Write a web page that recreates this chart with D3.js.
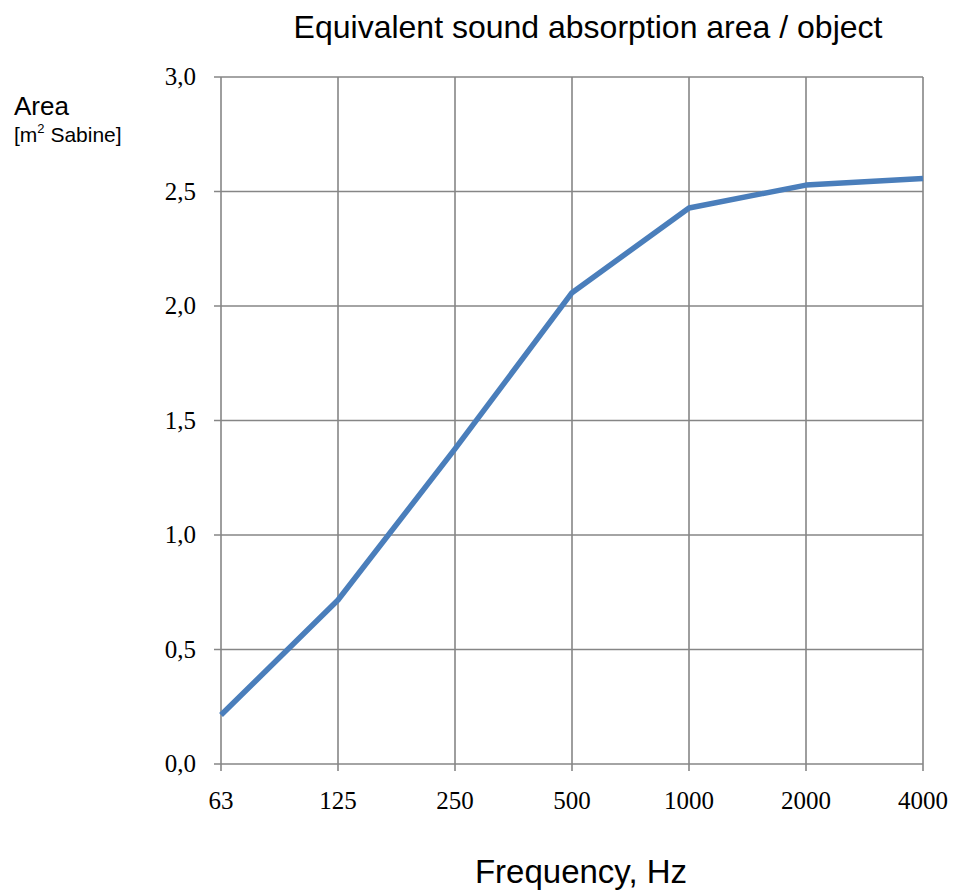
<!DOCTYPE html>
<html>
<head>
<meta charset="utf-8">
<script src="https://cdn.jsdelivr.net/npm/d3@7"></script>
<style>
  body { margin: 0; background: #fff; }
</style>
</head>
<body>
<div id="chart"></div>
<script>
// data
var freqLabels = ["63", "125", "250", "500", "1000", "2000", "4000"];
var areaValues = [0.214, 0.716, 1.376, 2.058, 2.428, 2.528, 2.557];
var yTicks = [0, 0.5, 1.0, 1.5, 2.0, 2.5, 3.0];

var W = 968, H = 892;
var margin = {top: 77, right: 45, bottom: 128, left: 221};
var width = W - margin.left - margin.right,
    height = H - margin.top - margin.bottom;

var svg = d3.select("#chart").append("svg")
    .attr("width", W).attr("height", H);

var g = svg.append("g")
    .attr("transform", "translate(" + margin.left + "," + margin.top + ")");

var x = d3.scalePoint().domain(freqLabels).range([0, width]);
var y = d3.scaleLinear().domain([0, 3]).range([height, 0]);

var gridColor = "#868686";

// horizontal grid
g.append("g").selectAll("line").data(yTicks).enter().append("line")
    .attr("x1", -7).attr("x2", width)
    .attr("y1", function (d) { return y(d); })
    .attr("y2", function (d) { return y(d); })
    .attr("stroke", gridColor).attr("stroke-width", 1.6);

// vertical grid
g.append("g").selectAll("line").data(freqLabels).enter().append("line")
    .attr("x1", function (d) { return x(d); })
    .attr("x2", function (d) { return x(d); })
    .attr("y1", 0).attr("y2", height + 7)
    .attr("stroke", gridColor).attr("stroke-width", 1.6);

// y tick labels
g.append("g").selectAll("text").data(yTicks).enter().append("text")
    .attr("x", -25)
    .attr("y", function (d) { return y(d) + 8; })
    .attr("text-anchor", "end")
    .style("font-family", "'Liberation Serif', 'DejaVu Serif', serif")
    .style("font-size", "25px")
    .text(function (d) { return d.toFixed(1).replace(".", ","); });

// x tick labels
g.append("g").selectAll("text").data(freqLabels).enter().append("text")
    .attr("x", function (d) { return x(d); })
    .attr("y", height + 45)
    .attr("text-anchor", "middle")
    .style("font-family", "'Liberation Serif', 'DejaVu Serif', serif")
    .style("font-size", "25px")
    .text(function (d) { return d; });

// the series
var line = d3.line()
    .x(function (d, i) { return x(freqLabels[i]); })
    .y(function (d) { return y(d); });

g.append("path")
    .datum(areaValues)
    .attr("d", line)
    .attr("fill", "none")
    .attr("stroke", "#4a7ebb")
    .attr("stroke-width", 5.5)
    .attr("stroke-linejoin", "round");

// title and axis titles
svg.append("text")
    .attr("x", 588).attr("y", 38)
    .attr("text-anchor", "middle")
    .style("font-family", "'Liberation Sans', Arial, sans-serif")
    .style("font-size", "32px")
    .text("Equivalent sound absorption area / object");

svg.append("text")
    .attr("x", 581).attr("y", 883)
    .attr("text-anchor", "middle")
    .style("font-family", "'Liberation Sans', Arial, sans-serif")
    .style("font-size", "33px")
    .text("Frequency, Hz");

svg.append("text")
    .attr("x", 14).attr("y", 115)
    .style("font-family", "'Liberation Sans', Arial, sans-serif")
    .style("font-size", "26px")
    .text("Area");

var unit = svg.append("text")
    .attr("x", 14).attr("y", 142)
    .style("font-family", "'Liberation Sans', Arial, sans-serif")
    .style("font-size", "21px");
unit.append("tspan").text("[m");
unit.append("tspan").attr("dy", -9).style("font-size", "13px").text("2");
unit.append("tspan").attr("dy", 9).text(" Sabine]");
</script>
</body>
</html>
